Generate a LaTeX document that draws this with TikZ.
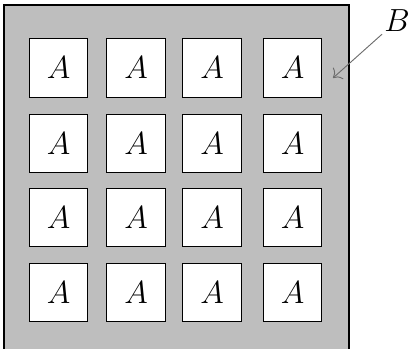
\documentclass[tikz,border=0pt]{standalone}
\usetikzlibrary{arrows.meta}
\definecolor{panelgray}{RGB}{190,190,190}
\tikzset{cell/.style={draw=black,fill=white,line width=0.55pt,minimum size=1.12cm,inner sep=0pt,font=\LARGE}}
\begin{document}
\begin{tikzpicture}[x=0.019cm,y=-0.019cm]
\useasboundingbox (0,0) rectangle (412,348);
% gray panel, cut off at the bottom
\begin{scope}
\clip (0,0) rectangle (412,348);
\draw[fill=panelgray,line width=0.8pt] (4,5) rectangle (349,360);
\end{scope}
\foreach \x [count=\i] in {58.5,136,212,292.5}
  \foreach \y [count=\j] in {68,143.5,217.5,292.5}
    \node[cell] (a\i\j) at (\x,\y) {$A$};
\node[font=\LARGE,inner sep=1pt] (b) at (397,21) {$B$};
\coordinate (tip) at (333,78);
\draw[gray!85!black,-{To[length=4pt]},line width=0.5pt] (b.south west) -- (tip);
\end{tikzpicture}
\end{document}
